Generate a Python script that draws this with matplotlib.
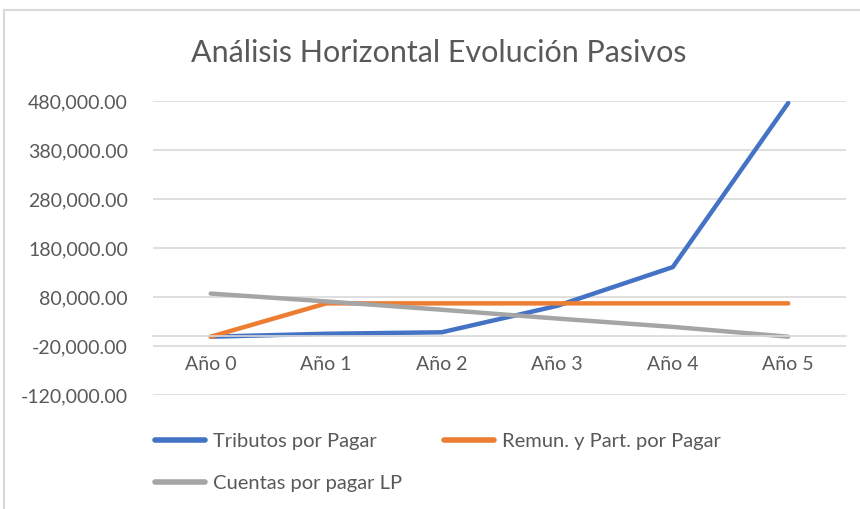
import matplotlib
matplotlib.use("Agg")
from matplotlib import pyplot as plt
from matplotlib.lines import Line2D

plt.rcParams['font.family'] = ['Lato', 'DejaVu Sans']

anios = ["Año 0", "Año 1", "Año 2", "Año 3", "Año 4", "Año 5"]
tributos = [-1000, 5000, 8000, 62000, 141000, 476000]
remun = [-1000, 67000, 67000, 67000, 67000, 67000]
cuentas = [87000, 71000, 54000, 36000, 19000, -1000]
yticks = [-120000, -20000, 80000, 180000, 280000, 380000, 480000]

texto = '#595959'
grid = '#d9d9d9'

fig = plt.figure(figsize=(8.6, 5.09), dpi=100)
ax = fig.add_axes([153/860, 1-395/509, 693/860, 294/509])

x = list(range(len(anios)))
l1, = ax.plot(x, tributos, color='#4472c4', lw=3.2, solid_capstyle='round', label='Tributos por Pagar')
l2, = ax.plot(x, remun, color='#ed7d31', lw=3.2, solid_capstyle='round', label='Remun. y Part. por Pagar')
l3, = ax.plot(x, cuentas, color='#a5a5a5', lw=3.2, solid_capstyle='round', label='Cuentas por pagar LP')

ax.set_xlim(-0.5, 5.5)
ax.set_ylim(-120000, 480000)
ax.set_yticks(yticks)
ax.set_yticklabels(['{:,.2f}'.format(v) for v in yticks])
ax.set_xticks(x)
ax.set_xticklabels(anios)
ax.grid(axis='y', color=grid, lw=1.2)
ax.set_axisbelow(True)

for s in ['top', 'right', 'left']:
    ax.spines[s].set_visible(False)
ax.spines['bottom'].set_position(('data', 0))
ax.spines['bottom'].set_color(grid)
ax.spines['bottom'].set_linewidth(1.2)
ax.tick_params(axis='both', length=0, labelsize=14, labelcolor=texto)
ax.tick_params(axis='x', pad=14)
ax.tick_params(axis='y', pad=18)

fig.text(439/860, 1-53/509, 'Análisis Horizontal Evolución Pasivos', ha='center', va='center',
         fontsize=22, color=texto)

# orden por filas: Tributos, Remun / Cuentas
leg = fig.legend([l1, l3, l2], [l1.get_label(), l3.get_label(), l2.get_label()],
                 loc='upper left', bbox_to_anchor=(155/860, 1-433/509), ncol=2, frameon=False,
                 fontsize=14.5, handlelength=2.5, handletextpad=0.4, columnspacing=2.05,
                 labelspacing=1.25, borderpad=0, borderaxespad=0)
for t in leg.get_texts():
    t.set_color(texto)
for h in leg.get_lines():
    h.set_linewidth(4)

# marco del grafico
fig.add_artist(Line2D([4/860, 1], [1-10/509, 1-10/509], color=grid, lw=1.5))
fig.add_artist(Line2D([4/860, 4/860], [0, 1-10/509], color=grid, lw=1.5))

fig.savefig('out.png', dpi=100)
